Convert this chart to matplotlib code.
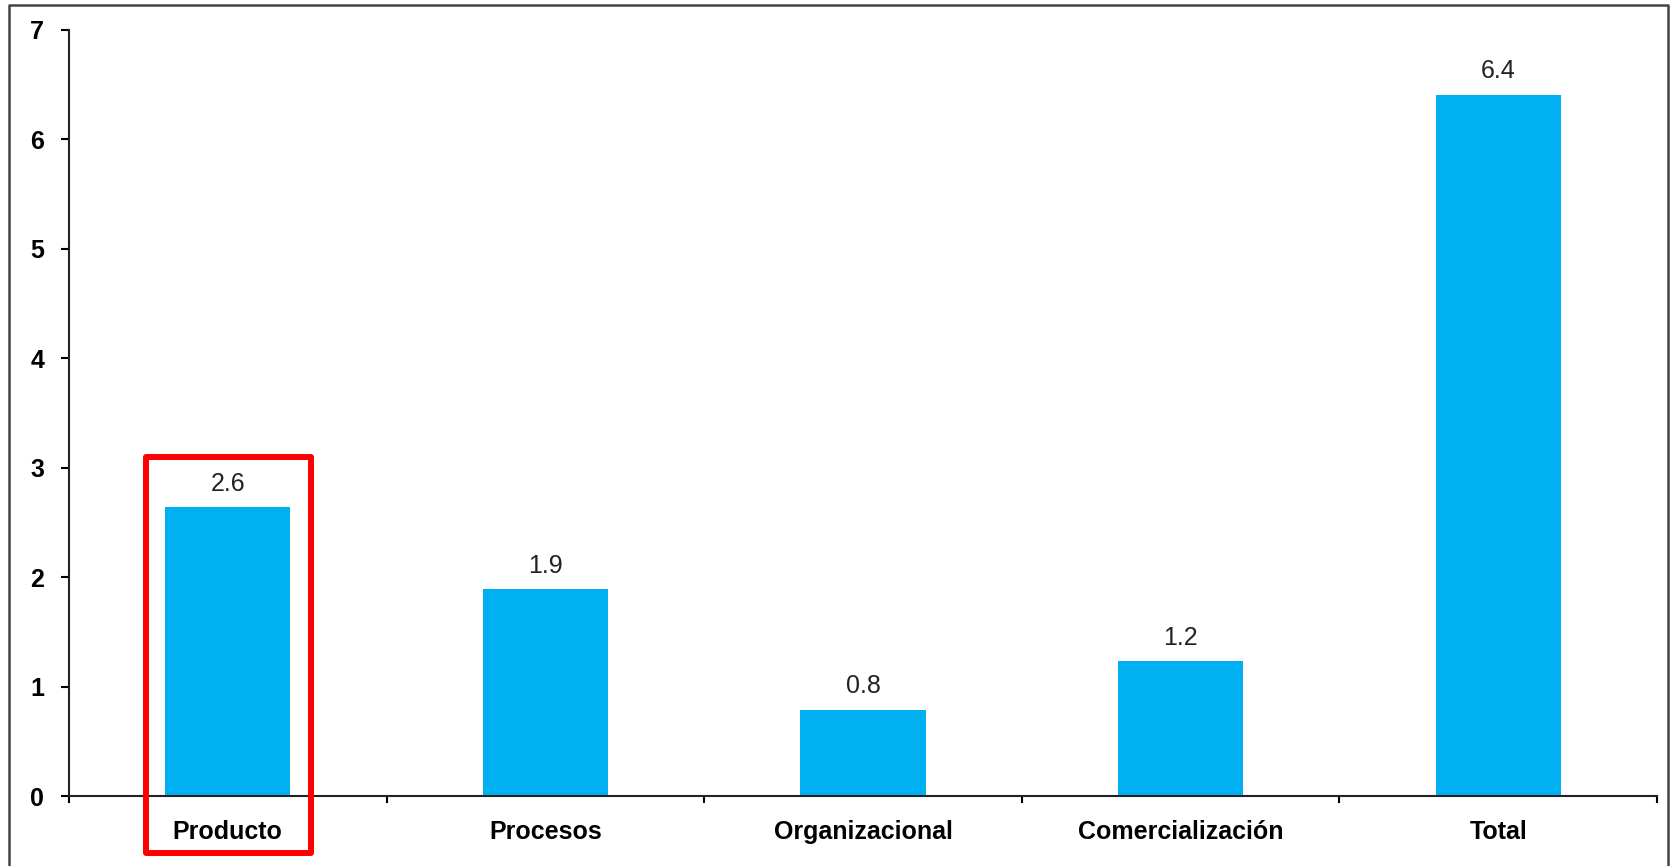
import numpy as np
import matplotlib.pyplot as plt
from matplotlib.patches import Rectangle
from matplotlib.lines import Line2D

# data
categories = ['Producto', 'Procesos', 'Organizacional', 'Comercialización', 'Total']
values = [2.64, 1.89, 0.79, 1.23, 6.41]
value_labels = ['2.6', '1.9', '0.8', '1.2', '6.4']
yticks = [0, 1, 2, 3, 4, 5, 6, 7]

plt.rcParams['font.family'] = ['Liberation Sans', 'DejaVu Sans']

fig = plt.figure(figsize=(16.71, 8.66), dpi=100)
ax = fig.add_axes([0.0413, 0.0808, 0.9503, 0.8846])

x = np.arange(len(categories))
ax.bar(x, values, width=0.394, color='#00B0F0', zorder=2)

#value labels above each bar
for xi, v, lab in zip(x, values, value_labels):
    ax.annotate(lab, (xi, v), xytext=(0, 8), textcoords='offset points',
                ha='center', va='bottom', fontsize=18, color='#222222')

ax.set_xlim(-0.5, len(categories) - 0.5)
ax.set_ylim(0, 7)
ax.set_yticks(yticks)
ax.set_yticklabels([str(t) for t in yticks], fontsize=18, fontweight='bold')
ax.tick_params(axis='y', length=6, width=1.5, pad=12)

#boundary ticks as major, category names on minor ticks
ax.set_xticks(np.arange(-0.5, len(categories), 1))
ax.set_xticklabels([])
ax.tick_params(axis='x', which='major', length=5, width=1.5)
ax.set_xticks(x, minor=True)
ax.set_xticklabels(categories, minor=True, fontsize=18, fontweight='bold')
ax.tick_params(axis='x', which='minor', length=0, pad=17)

for s in ['top', 'right']:
    ax.spines[s].set_visible(False)
for s in ['left', 'bottom']:
    ax.spines[s].set_linewidth(1.5)
    ax.spines[s].set_color('#222222')

#red highlight box around first category
ax.add_patch(Rectangle((-0.258, -0.52), 0.519, 3.62, fill=False, edgecolor='#FF0000',
                       linewidth=4.3, joinstyle='round', clip_on=False, zorder=5))

#outer frame (bottom edge falls outside the picture)
frame_x = [9 / 1671, 9 / 1671, 1668 / 1671, 1668 / 1671]
frame_y = [-0.01, 1 - 5 / 866, 1 - 5 / 866, -0.01]
fig.add_artist(Line2D(frame_x, frame_y, transform=fig.transFigure,
                      color='#444444', linewidth=1.8))

fig.savefig('out.png', dpi=100)
